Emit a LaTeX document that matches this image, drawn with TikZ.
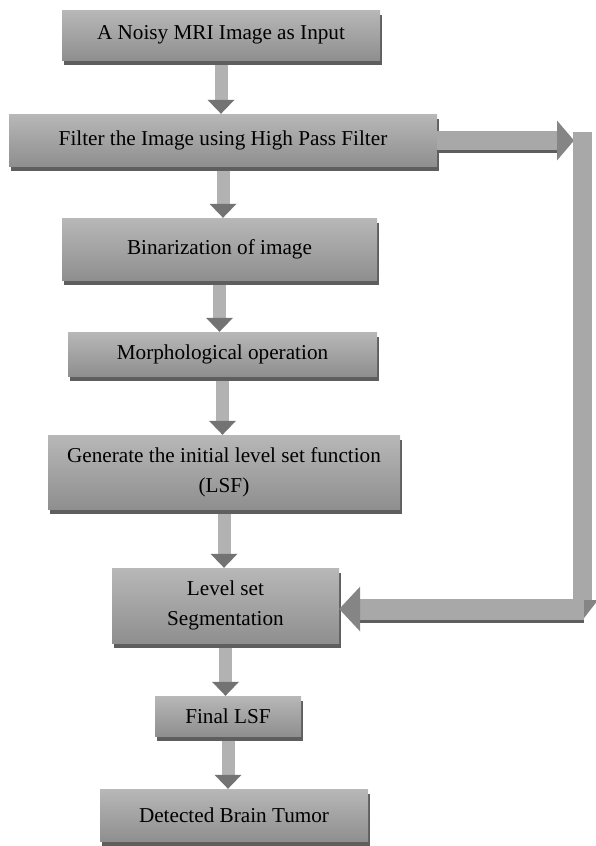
\documentclass[tikz,border=0pt]{standalone}
\usepackage{fontspec}
\setmainfont{Liberation Serif}
\usetikzlibrary{arrows.meta,shadows}

\begin{document}
\begin{tikzpicture}[
  x=1pt, y=-1pt,
  stage/.style={top color=black!28, bottom color=black!44, align=center, inner sep=0pt,
    font=\fontsize{21.2}{30}\selectfont,
    drop shadow={shadow xshift=1.5pt, shadow yshift=-4.5pt, fill=black!63, opacity=1}},
  flow/.style={line width=13pt, draw=black!30, shorten <=4.5pt,
    -{Triangle[width=27pt, length=14pt, line width=0pt, color=black!55]}},
  loop/.style={line width=19pt, draw=black!34,
    -{Triangle[width=40pt, length=17pt, line width=0pt, color=black!48]}},
  loopedge/.style={line width=19pt, draw=black!63}
]
\useasboundingbox (0,0) rectangle (595,846);

\node[stage, minimum width=318pt, minimum height=50pt] (input) at (221,35) {A Noisy MRI Image as Input};
\node[stage, minimum width=428pt, minimum height=52pt] (filter) at (223,140) {Filter the Image using High Pass Filter};
\node[stage, minimum width=315pt, minimum height=62pt] (binary) at (219.5,249) {Binarization of image};
\node[stage, minimum width=309pt, minimum height=44pt] (morph) at (222.5,354) {Morphological operation};
\node[stage, minimum width=352pt, minimum height=74pt] (initlsf) at (224,472) {Generate the initial level set function\\(LSF)};
\node[stage, minimum width=227pt, minimum height=75pt] (seg) at (225.5,605.5) {Level set\\Segmentation};
\node[stage, minimum width=146pt, minimum height=40pt] (final) at (228,716) {Final LSF};
\node[stage, minimum width=268pt, minimum height=52pt] (tumor) at (234,815) {Detected Brain Tumor};

\coordinate (turn) at (574,140.5);
\coordinate (top) at (582.5,132);
\coordinate (corner) at (580,620);
\coordinate (back) at (584,609);

% main flow
\draw[flow] (input.south) -- (input.south |- filter.north);
\draw[flow] (filter.south) -- (filter.south |- binary.north);
\draw[flow] (binary.south) -- (binary.south |- morph.north);
\draw[flow] (morph.south) -- (morph.south |- initlsf.north);
\draw[flow] (initlsf.south) -- (initlsf.south |- seg.north);
\draw[flow] (seg.south) -- (seg.south |- final.north);
\draw[flow] (final.south) -- (final.south |- tumor.north);

% feedback path
\draw[loopedge, shorten >=17pt] ([yshift=-3pt]filter.east |- turn) -- ([yshift=-3pt]turn);
\draw[loop] (filter.east |- turn) -- (turn);
\draw[loop, -{Triangle[width=31pt, length=20pt, line width=0pt, color=black!48]}] (top) -- (top |- corner);
\draw[loopedge, line width=21pt, shorten >=21pt] ([yshift=-3pt]back) -- ([yshift=-3pt]back -| seg.east);
\draw[loop, line width=21pt, -{Triangle[width=45pt, length=21pt, line width=0pt, color=black!48]}] (back) -- (back -| seg.east);
\end{tikzpicture}
\end{document}
